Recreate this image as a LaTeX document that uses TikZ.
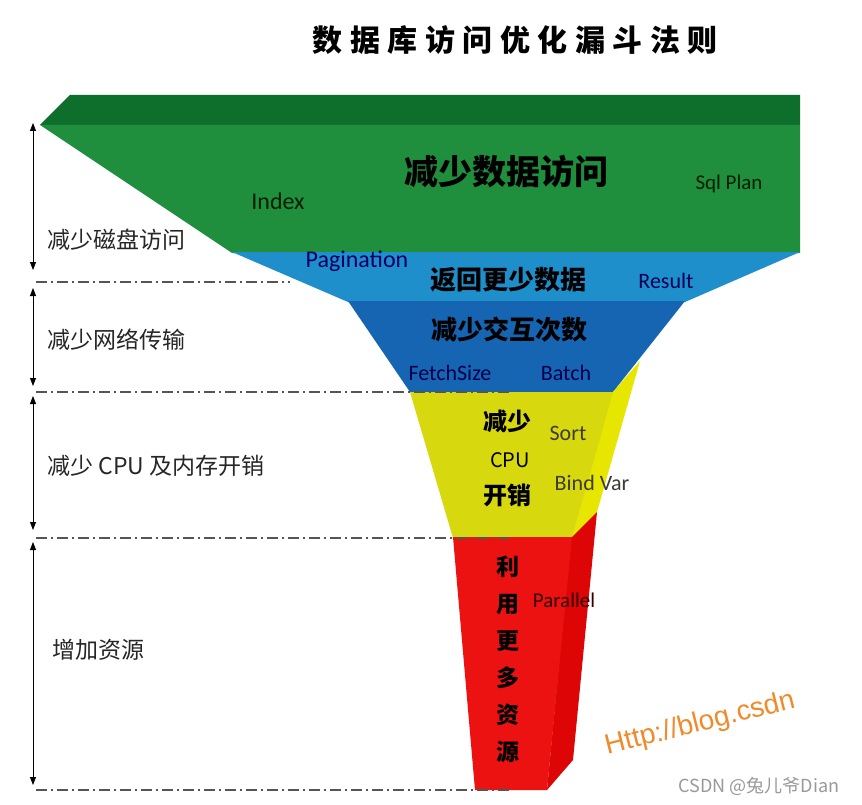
\documentclass[tikz,border=0pt]{standalone}
\usepackage{fontspec}
\setmainfont{Carlito}
\newfontfamily\cjk{Noto Sans CJK SC}
\newfontfamily\arialf{Liberation Sans}
\usetikzlibrary{arrows.meta}
\definecolor{gtop}{HTML}{0E6E2C}
\definecolor{gmain}{HTML}{1F8F3D}
\definecolor{lblue}{HTML}{1E8FCB}
\definecolor{dblue}{HTML}{1565B3}
\definecolor{yfront}{HTML}{D8D80E}
\definecolor{yside}{HTML}{E6E600}
\definecolor{rfront}{HTML}{EC1212}
\definecolor{rside}{HTML}{DD0505}
\definecolor{dashgray}{HTML}{555555}
\definecolor{wmorange}{HTML}{F08A2A}
\newcommand\tsp{\hspace{7.5pt}}
\tikzset{
  leftlbl/.style={anchor=west, inner sep=0pt, font=\cjk\fontsize{23}{23}\selectfont, text=black!85},
  biglbl/.style={inner sep=0pt, font=\cjk\bfseries\fontsize{26}{26}\selectfont, text=black},
  enlbl/.style={inner sep=0pt, font=\fontsize{22}{22}\selectfont},
  dashdot/.style={dashgray, line width=1.2pt, dash pattern=on 11pt off 4pt on 2pt off 4pt},
  sizearrow/.style={black, line width=0.8pt, {Triangle[width=6pt,length=8pt]}-{Triangle[width=6pt,length=8pt]}}
}
\begin{document}
\begin{tikzpicture}[x=1pt,y=-1pt]
\useasboundingbox[fill=white] (0,0) rectangle (862,805);
% funnel shapes
\fill[gtop] (40,125) -- (70,95) -- (800,95) -- (800,125) -- cycle;
\fill[gmain] (40,125) -- (800,125) -- (800,253) -- (232,253) -- cycle;
\fill[lblue] (232,252) -- (800,252) -- (685,302) -- (348,302) -- cycle;
\fill[dblue] (348,301) -- (685,301) -- (613,392) -- (410,392) -- cycle;
\fill[yside] (612,393) -- (640,361) -- (597,512) -- (572,538) -- cycle;
\fill[yfront] (410,392) -- (613,392) -- (572,538) -- (453,538) -- cycle;
\fill[rside] (571,538) -- (597,512) -- (573,760) -- (547,790) -- cycle;
\fill[rfront] (453,537) -- (572,537) -- (547,790) -- (475,790) -- cycle;
% title
\node[inner sep=0pt, font=\cjk\bfseries\fontsize{30}{30}\selectfont] (title) at (515,40)
  {数\tsp 据\tsp 库\tsp 访\tsp 问\tsp 优\tsp 化\tsp 漏\tsp 斗\tsp 法\tsp 则};
% dash-dot level lines
\coordinate (d1l) at (36,282); \coordinate (d1r) at (290,282);
\coordinate (d2l) at (36,392); \coordinate (d2r) at (512,392);
\coordinate (d3l) at (36,538); \coordinate (d3r) at (510,538);
\coordinate (d4l) at (36,790); \coordinate (d4r) at (510,790);
\draw[dashdot] (d1l) -- (d1r);
\draw[dashdot] (d2l) -- (d2r);
\draw[dashdot] (d3l) -- (d3r);
\draw[dashdot] (d4l) -- (d4r);
% size arrows
\coordinate (a1t) at (33,123); \coordinate (a1b) at (33,270);
\coordinate (a2t) at (33,288); \coordinate (a2b) at (33,386);
\coordinate (a3t) at (33,396); \coordinate (a3b) at (33,530);
\coordinate (a4t) at (33,542); \coordinate (a4b) at (33,785);
\draw[sizearrow] (a1t) -- (a1b);
\draw[sizearrow] (a2t) -- (a2b);
\draw[sizearrow] (a3t) -- (a3b);
\draw[sizearrow] (a4t) -- (a4b);
% left labels
\node[leftlbl] (l1) at (47,240) {减少磁盘访问};
\node[leftlbl] (l2) at (47,340) {减少网络传输};
\node[leftlbl] (l3) at (47,466) {减少 CPU 及内存开销};
\node[leftlbl] (l4) at (52,650) {增加资源};
% funnel labels
\node[biglbl, font=\cjk\bfseries\fontsize{34}{34}\selectfont] (g1) at (506,172) {减少数据访问};
\node[enlbl, text=black!70!green!40!black, font=\fontsize{24}{24}\selectfont] (idx) at (278,201) {Index};
\node[enlbl, text=black!70!green!40!black, font=\fontsize{21}{21}\selectfont] (sql) at (729,184) {Sql Plan};
\node[enlbl, text=blue!40!black, font=\fontsize{24}{24}\selectfont] (pag) at (357,261) {Pagination};
\node[biglbl] (b1) at (508,280) {返回更少数据};
\node[enlbl, text=blue!35!black] (res) at (666,281) {Result};
\node[biglbl] (b2) at (509,330) {减少交互次数};
\node[enlbl, text=blue!30!black] (fs) at (450,373) {FetchSize};
\node[enlbl, text=blue!30!black] (bat) at (566,373) {Batch};
\node[biglbl, font=\cjk\bfseries\fontsize{24}{24}\selectfont] (y1) at (507,421) {减少};
\node[inner sep=0pt, font=\cjk\fontsize{20}{20}\selectfont] (y2) at (510,460) {CPU};
\node[biglbl, font=\cjk\bfseries\fontsize{24}{24}\selectfont] (y3) at (507,495) {开销};
\node[enlbl, text=black!75!yellow!50!black] (sort) at (568,433) {Sort};
\node[enlbl, text=black!75!yellow!50!black] (bind) at (592,483) {Bind Var};
\node[biglbl, font=\cjk\bfseries\fontsize{23}{23}\selectfont, align=center] (r1) at (508,659)
  {利\\[14pt]用\\[14pt]更\\[14pt]多\\[14pt]资\\[14pt]源};
\node[enlbl, text=black!80!red, font=\fontsize{21}{21}\selectfont] (par) at (564,600) {Parallel};
% watermarks
\node[inner sep=0pt, rotate=14, text=wmorange, font=\arialf\fontsize{28}{28}\selectfont] (url) at (700,724) {Http://blog.csdn};
\node[inner sep=0pt, text=black!40, font=\cjk\fontsize{18}{18}\selectfont] (csdn) at (759,786) {CSDN @兔儿爷Dian};
\end{tikzpicture}
\end{document}
